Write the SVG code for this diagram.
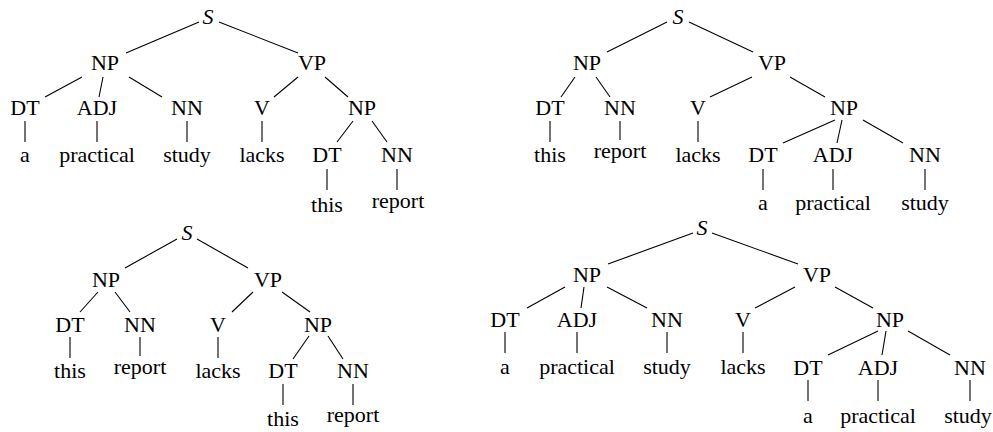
<svg xmlns="http://www.w3.org/2000/svg" width="993" height="432" viewBox="0 0 993 432">
<style>
.n text{font-family:'Liberation Serif','Times New Roman',Tinos,Times,'DejaVu Serif',serif;font-size:22px;fill:#000;text-anchor:middle}
.it{font-style:italic}
#connectors line{stroke:#000;stroke-width:1.1}
</style>
<rect width="993" height="432" fill="#fff"/>
<g id="connectors">
<line x1="199" y1="22" x2="126" y2="53"/>
<line x1="219" y1="22" x2="298" y2="53"/>
<line x1="82" y1="77" x2="45" y2="97"/>
<line x1="103" y1="77" x2="99" y2="97"/>
<line x1="129" y1="77" x2="162" y2="97"/>
<line x1="298" y1="77" x2="274" y2="97"/>
<line x1="325" y1="77" x2="348" y2="97"/>
<line x1="25" y1="121" x2="25" y2="142"/>
<line x1="97" y1="121" x2="97" y2="142"/>
<line x1="187" y1="121" x2="187" y2="142"/>
<line x1="262" y1="121" x2="262" y2="142"/>
<line x1="353" y1="121" x2="337" y2="142"/>
<line x1="372" y1="121" x2="387" y2="142"/>
<line x1="327" y1="169" x2="327" y2="190"/>
<line x1="397" y1="169" x2="397" y2="190"/>
<line x1="667" y1="22" x2="607" y2="52"/>
<line x1="689" y1="22" x2="753" y2="52"/>
<line x1="575" y1="77" x2="561" y2="97"/>
<line x1="596" y1="77" x2="610" y2="97"/>
<line x1="752" y1="77" x2="710" y2="97"/>
<line x1="790" y1="77" x2="825" y2="97"/>
<line x1="550" y1="121" x2="550" y2="142"/>
<line x1="620" y1="121" x2="620" y2="140"/>
<line x1="698" y1="121" x2="698" y2="142"/>
<line x1="835" y1="120" x2="783" y2="143"/>
<line x1="842" y1="120" x2="837" y2="143"/>
<line x1="863" y1="120" x2="903" y2="143"/>
<line x1="763" y1="169" x2="763" y2="190"/>
<line x1="833" y1="169" x2="833" y2="190"/>
<line x1="925" y1="169" x2="925" y2="190"/>
<line x1="177" y1="239" x2="125" y2="268"/>
<line x1="197" y1="239" x2="248" y2="268"/>
<line x1="98" y1="292" x2="80" y2="312"/>
<line x1="115" y1="292" x2="130" y2="312"/>
<line x1="253" y1="292" x2="232" y2="312"/>
<line x1="282" y1="292" x2="310" y2="312"/>
<line x1="70" y1="337" x2="70" y2="358"/>
<line x1="140" y1="337" x2="140" y2="356"/>
<line x1="218" y1="337" x2="218" y2="358"/>
<line x1="309" y1="336" x2="293" y2="359"/>
<line x1="328" y1="336" x2="343" y2="359"/>
<line x1="283" y1="384" x2="283" y2="405"/>
<line x1="353" y1="384" x2="353" y2="405"/>
<line x1="693" y1="233" x2="608" y2="264"/>
<line x1="712" y1="233" x2="798" y2="264"/>
<line x1="565" y1="287" x2="527" y2="308"/>
<line x1="584" y1="287" x2="581" y2="308"/>
<line x1="607" y1="287" x2="647" y2="308"/>
<line x1="795" y1="287" x2="755" y2="308"/>
<line x1="835" y1="287" x2="873" y2="308"/>
<line x1="505" y1="332" x2="505" y2="353"/>
<line x1="577" y1="332" x2="577" y2="353"/>
<line x1="667" y1="332" x2="667" y2="353"/>
<line x1="743" y1="332" x2="743" y2="353"/>
<line x1="878" y1="331" x2="828" y2="355"/>
<line x1="886" y1="331" x2="882" y2="355"/>
<line x1="908" y1="331" x2="950" y2="355"/>
<line x1="808" y1="380" x2="808" y2="401"/>
<line x1="878" y1="380" x2="878" y2="401"/>
<line x1="970" y1="380" x2="970" y2="401"/>
</g>
<g class="n" font-family="Liberation Serif, Times New Roman, serif" font-size="22" text-anchor="middle">
<g id="t1-S"><text class="it" x="208" y="24">S</text></g>
<g id="t1-NP"><text x="105" y="70">NP</text></g>
<g id="t1-VP"><text x="312" y="70">VP</text></g>
<g id="t1-DT"><text x="25" y="115">DT</text></g>
<g id="t1-ADJ"><text x="97" y="115">ADJ</text></g>
<g id="t1-NN"><text x="187" y="115">NN</text></g>
<g id="t1-V"><text x="262" y="115">V</text></g>
<g id="t1-NP2"><text x="362" y="115">NP</text></g>
<g id="t1-a"><text x="25" y="162">a</text></g>
<g id="t1-practical"><text x="97" y="162">practical</text></g>
<g id="t1-study"><text x="187" y="162">study</text></g>
<g id="t1-lacks"><text x="262" y="162">lacks</text></g>
<g id="t1-DT2"><text x="327" y="162">DT</text></g>
<g id="t1-NN2"><text x="397" y="162">NN</text></g>
<g id="t1-this"><text x="327" y="212">this</text></g>
<g id="t1-report"><text x="398" y="208">report</text></g>
<g id="t2-S"><text class="it" x="678" y="24">S</text></g>
<g id="t2-NP"><text x="587" y="70">NP</text></g>
<g id="t2-VP"><text x="772" y="70">VP</text></g>
<g id="t2-DT"><text x="550" y="115">DT</text></g>
<g id="t2-NN"><text x="620" y="115">NN</text></g>
<g id="t2-V"><text x="698" y="115">V</text></g>
<g id="t2-NP2"><text x="844" y="115">NP</text></g>
<g id="t2-this"><text x="550" y="162">this</text></g>
<g id="t2-report"><text x="620" y="158">report</text></g>
<g id="t2-lacks"><text x="698" y="162">lacks</text></g>
<g id="t2-DT2"><text x="763" y="162">DT</text></g>
<g id="t2-ADJ2"><text x="833" y="162">ADJ</text></g>
<g id="t2-NN2"><text x="925" y="162">NN</text></g>
<g id="t2-a"><text x="763" y="210">a</text></g>
<g id="t2-practical"><text x="833" y="210">practical</text></g>
<g id="t2-study"><text x="925" y="210">study</text></g>
<g id="t3-S"><text class="it" x="187" y="240">S</text></g>
<g id="t3-NP"><text x="106" y="287">NP</text></g>
<g id="t3-VP"><text x="268" y="287">VP</text></g>
<g id="t3-DT"><text x="70" y="332">DT</text></g>
<g id="t3-NN"><text x="140" y="332">NN</text></g>
<g id="t3-V"><text x="218" y="332">V</text></g>
<g id="t3-NP2"><text x="318" y="332">NP</text></g>
<g id="t3-this"><text x="70" y="378">this</text></g>
<g id="t3-report"><text x="140" y="374">report</text></g>
<g id="t3-lacks"><text x="218" y="378">lacks</text></g>
<g id="t3-DT2"><text x="283" y="378">DT</text></g>
<g id="t3-NN2"><text x="353" y="378">NN</text></g>
<g id="t3-this2"><text x="283" y="426">this</text></g>
<g id="t3-report2"><text x="353" y="422">report</text></g>
<g id="t4-S"><text class="it" x="702" y="235">S</text></g>
<g id="t4-NP"><text x="587" y="282">NP</text></g>
<g id="t4-VP"><text x="817" y="282">VP</text></g>
<g id="t4-DT"><text x="505" y="327">DT</text></g>
<g id="t4-ADJ"><text x="577" y="327">ADJ</text></g>
<g id="t4-NN"><text x="667" y="327">NN</text></g>
<g id="t4-V"><text x="743" y="327">V</text></g>
<g id="t4-NP2"><text x="890" y="327">NP</text></g>
<g id="t4-a"><text x="505" y="374">a</text></g>
<g id="t4-practical"><text x="577" y="374">practical</text></g>
<g id="t4-study"><text x="667" y="374">study</text></g>
<g id="t4-lacks"><text x="743" y="374">lacks</text></g>
<g id="t4-DT2"><text x="808" y="375">DT</text></g>
<g id="t4-ADJ2"><text x="878" y="375">ADJ</text></g>
<g id="t4-NN2"><text x="970" y="375">NN</text></g>
<g id="t4-a2"><text x="808" y="423">a</text></g>
<g id="t4-practical2"><text x="878" y="423">practical</text></g>
<g id="t4-study2"><text x="968" y="423">study</text></g>
</g>
</svg>
